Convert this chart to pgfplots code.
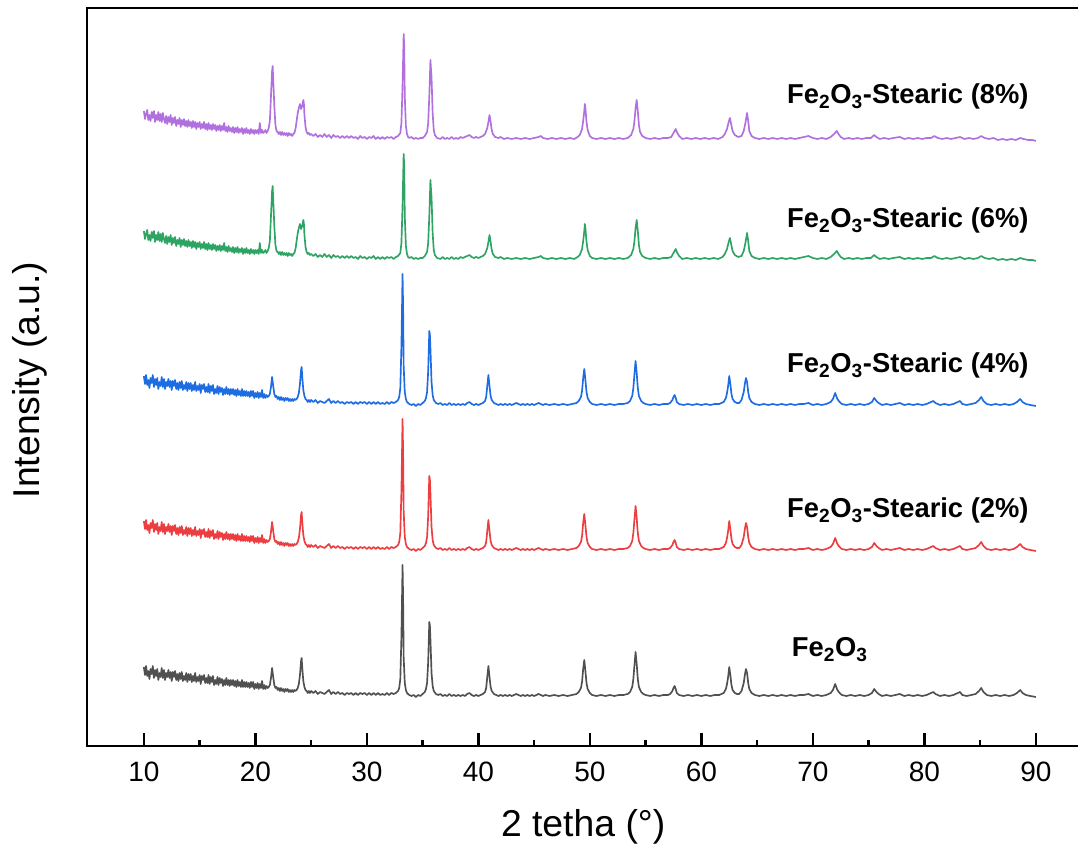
\documentclass[border=0pt]{standalone}
\usepackage{pgfplots}
\pgfplotsset{compat=1.18}
\usepackage{pgfplotstable}
\usepackage{fontspec}
\setmainfont{Liberation Sans}

\definecolor{cgray}{RGB}{80,80,80}
\definecolor{cred}{RGB}{236,62,64}
\definecolor{cblue}{RGB}{30,108,226}
\definecolor{cgreen}{RGB}{46,164,100}
\definecolor{cpurple}{RGB}{176,112,222}

% pattern of Fe2O3, 2%, 4% (relative intensity above the baseline, px)
\pgfplotstableread[row sep=\\]{
x y\\
10.0 30\\ 10.1 22\\ 10.2 31\\ 10.3 21\\ 10.4 26\\ 10.5 18\\ 10.6 28\\ 10.7 23\\ 10.8 31\\ 10.9 19\\
11.0 27\\ 11.1 21\\ 11.2 28\\ 11.3 17\\ 11.4 24\\ 11.5 20\\ 11.6 29\\ 11.7 19\\ 11.8 27\\ 11.9 17\\
12.0 24\\ 12.1 20\\ 12.2 27\\ 12.3 19\\ 12.4 25\\ 12.5 16\\ 12.6 25\\ 12.7 20\\ 12.8 26\\ 12.9 17\\
13.0 23\\ 13.1 16\\ 13.2 24\\ 13.3 18\\ 13.4 25\\ 13.5 16\\ 13.6 21\\ 13.7 17\\ 13.8 24\\ 13.9 15\\
14.0 23\\ 14.1 17\\ 14.2 23\\ 14.3 15\\ 14.4 21\\ 14.5 16\\ 14.6 24\\ 14.7 15\\ 14.8 20\\ 14.9 16\\
15.0 22\\ 15.1 13\\ 15.2 21\\ 15.3 17\\ 15.4 22\\ 15.5 14\\ 15.6 19\\ 15.7 14\\ 15.8 22\\ 15.9 13\\
16.0 20\\ 16.1 15\\ 16.2 21\\ 16.3 12\\ 16.4 17\\ 16.5 13\\ 16.6 20\\ 16.7 12\\ 16.8 19\\ 16.9 14\\
17.0 18\\ 17.1 11\\ 17.2 17\\ 17.3 12\\ 17.4 19\\ 17.5 12\\ 17.6 17\\ 17.7 11\\ 17.8 17\\ 17.9 12\\
18.0 17\\ 18.1 11\\ 18.2 16\\ 18.3 10\\ 18.4 17\\ 18.5 11\\ 18.6 15\\ 18.7 10\\ 18.8 17\\ 18.9 10\\
19.0 15\\ 19.1 10\\ 19.2 15\\ 19.3 10\\ 19.4 14\\ 19.5 9\\ 19.6 15\\ 19.7 10\\ 19.8 15\\ 19.9 8\\
20.0 13\\ 20.1 9\\ 20.2 14\\ 20.3 8\\ 20.4 13\\ 20.5 9\\ 20.6 16\\ 20.7 8\\ 20.8 12\\ 20.9 8\\
21.0 11\\ 21.1 9\\ 21.2 10\\ 21.3 12\\ 21.4 19\\ 21.5 29\\ 21.6 20\\ 21.7 12\\ 21.8 9\\ 21.9 10\\
22.0 7\\ 22.1 9\\ 22.2 6\\ 22.3 9\\ 22.4 6\\ 22.5 8\\ 22.6 5\\ 22.7 8\\ 22.8 6\\ 22.9 8\\
23.0 5\\ 23.1 7\\ 23.2 5\\ 23.3 7\\ 23.4 5\\ 23.5 7\\ 23.6 6\\ 23.7 7\\ 23.8 9\\ 23.9 13\\
24.0 22\\ 24.1 36\\ 24.15 39\\ 24.2 30\\ 24.3 16\\ 24.4 10\\ 24.5 7\\ 24.6 6\\ 24.7 4\\ 24.8 6\\ 24.9 4\\
25.0 6\\ 25.2 4\\ 25.4 6\\ 25.6 3\\ 25.8 5\\ 26.0 4\\ 26.2 3\\ 26.4 5\\ 26.6 7\\ 26.8 3\\
27.0 5\\ 27.2 3\\ 27.4 5\\ 27.6 3\\ 27.8 4\\ 28.0 2\\ 28.2 4\\ 28.4 3\\ 28.6 4\\ 28.8 2\\
29.0 4\\ 29.2 2\\ 29.4 4\\ 29.6 3\\ 29.8 4\\ 30.0 2\\ 30.2 4\\ 30.4 2\\ 30.6 4\\ 30.8 2\\
31.0 4\\ 31.2 2\\ 31.4 3\\ 31.6 2\\ 31.8 4\\ 32.0 2\\ 32.2 4\\ 32.4 3\\ 32.6 4\\ 32.8 6\\
32.9 9\\ 33.0 18\\ 33.1 60\\ 33.2 132\\ 33.25 100\\ 33.3 40\\ 33.4 14\\ 33.5 7\\ 33.6 4\\ 33.8 2\\
34.0 1\\ 34.2 2\\ 34.4 0\\ 34.6 2\\ 34.8 1\\ 35.0 3\\ 35.2 5\\ 35.3 8\\ 35.4 14\\ 35.5 35\\
35.6 75\\ 35.65 72\\ 35.7 58\\ 35.8 24\\ 35.9 11\\ 36.0 6\\ 36.2 3\\ 36.4 2\\ 36.6 3\\ 36.8 1\\
37.0 2\\ 37.2 1\\ 37.4 3\\ 37.6 1\\ 37.8 2\\ 38.0 1\\ 38.2 2\\ 38.4 1\\ 38.6 2\\ 38.8 1\\
39.0 3\\ 39.2 4\\ 39.4 2\\ 39.6 1\\ 39.8 2\\ 40.0 1\\ 40.2 2\\ 40.4 3\\ 40.6 5\\ 40.7 9\\
40.8 20\\ 40.9 31\\ 41.0 20\\ 41.1 10\\ 41.2 6\\ 41.4 3\\ 41.6 2\\ 41.8 1\\ 42.0 2\\ 42.2 1\\
42.4 2\\ 42.6 1\\ 42.8 2\\ 43.0 1\\ 43.2 2\\ 43.4 3\\ 43.6 2\\ 43.8 1\\ 44.0 2\\ 44.2 1\\
44.4 2\\ 44.6 1\\ 44.8 2\\ 45.0 1\\ 45.2 2\\ 45.4 3\\ 45.6 2\\ 45.8 1\\ 46.0 2\\ 46.4 1\\
46.8 2\\ 47.2 1\\ 47.6 2\\ 48.0 1\\ 48.4 2\\ 48.8 3\\ 49.0 5\\ 49.2 9\\ 49.3 15\\ 49.4 28\\
49.5 37\\ 49.6 26\\ 49.7 14\\ 49.8 8\\ 50.0 4\\ 50.2 2\\ 50.6 1\\ 51.0 2\\ 51.4 1\\ 51.8 2\\
52.2 1\\ 52.6 2\\ 53.0 2\\ 53.4 3\\ 53.6 5\\ 53.8 10\\ 53.9 18\\ 54.0 32\\ 54.1 45\\ 54.2 33\\
54.3 18\\ 54.4 10\\ 54.6 5\\ 54.8 3\\ 55.0 2\\ 55.4 1\\ 55.8 2\\ 56.2 1\\ 56.6 2\\ 57.0 2\\
57.2 3\\ 57.4 6\\ 57.5 9\\ 57.6 11\\ 57.7 8\\ 57.8 4\\ 58.0 2\\ 58.4 1\\ 58.8 2\\ 59.2 1\\
59.6 2\\ 60.0 1\\ 60.4 2\\ 60.8 1\\ 61.2 2\\ 61.6 2\\ 62.0 4\\ 62.2 8\\ 62.3 13\\ 62.4 20\\
62.5 30\\ 62.6 22\\ 62.7 12\\ 62.8 7\\ 63.0 4\\ 63.2 3\\ 63.4 3\\ 63.6 6\\ 63.8 14\\ 63.9 22\\
64.0 28\\ 64.1 24\\ 64.2 14\\ 64.3 8\\ 64.5 4\\ 64.8 2\\ 65.2 1\\ 65.6 2\\ 66.0 1\\ 66.4 2\\
66.8 1\\ 67.2 2\\ 67.6 1\\ 68.0 2\\ 68.4 1\\ 68.8 2\\ 69.2 2\\ 69.6 3\\ 70.0 1\\ 70.4 2\\
70.8 1\\ 71.2 2\\ 71.6 4\\ 71.8 7\\ 71.9 10\\ 72.0 13\\ 72.1 10\\ 72.2 7\\ 72.4 4\\ 72.6 2\\
73.0 1\\ 73.4 2\\ 73.8 1\\ 74.2 2\\ 74.6 1\\ 75.0 2\\ 75.3 4\\ 75.5 8\\ 75.7 5\\ 75.9 3\\
76.2 1\\ 76.6 2\\ 77.0 1\\ 77.4 2\\ 77.8 3\\ 78.2 1\\ 78.6 2\\ 79.0 1\\ 79.4 2\\ 79.8 1\\
80.2 2\\ 80.6 4\\ 80.8 5\\ 81.0 3\\ 81.4 1\\ 81.8 2\\ 82.2 1\\ 82.6 2\\ 83.0 4\\ 83.2 5\\
83.4 2\\ 83.8 1\\ 84.2 2\\ 84.6 3\\ 84.9 6\\ 85.1 9\\ 85.3 5\\ 85.6 2\\ 86.0 1\\ 86.4 2\\
86.8 1\\ 87.2 2\\ 87.6 1\\ 88.0 2\\ 88.3 4\\ 88.6 7\\ 88.8 4\\ 89.1 2\\ 89.5 1\\ 90.0 0\\
}\dataA

% pattern of 6%, 8%
\pgfplotstableread[row sep=\\]{
x y\\
10.0 30\\ 10.1 22\\ 10.2 27\\ 10.3 31\\ 10.4 21\\ 10.5 26\\ 10.6 20\\ 10.7 29\\ 10.8 23\\ 10.9 30\\
11.0 19\\ 11.1 26\\ 11.2 21\\ 11.3 29\\ 11.4 20\\ 11.5 27\\ 11.6 19\\ 11.7 28\\ 11.8 22\\ 11.9 18\\
12.0 25\\ 12.1 17\\ 12.2 24\\ 12.3 19\\ 12.4 26\\ 12.5 16\\ 12.6 23\\ 12.7 18\\ 12.8 24\\ 12.9 15\\
13.0 21\\ 13.1 17\\ 13.2 23\\ 13.3 14\\ 13.4 21\\ 13.5 16\\ 13.6 22\\ 13.7 15\\ 13.8 20\\ 13.9 14\\
14.0 21\\ 14.1 15\\ 14.2 19\\ 14.3 13\\ 14.4 20\\ 14.5 14\\ 14.6 19\\ 14.7 12\\ 14.8 18\\ 14.9 14\\
15.0 19\\ 15.1 12\\ 15.2 17\\ 15.3 13\\ 15.4 19\\ 15.5 12\\ 15.6 17\\ 15.7 11\\ 15.8 18\\ 15.9 12\\
16.0 16\\ 16.1 11\\ 16.2 17\\ 16.3 12\\ 16.4 16\\ 16.5 10\\ 16.6 15\\ 16.7 11\\ 16.8 16\\ 16.9 10\\
17.0 15\\ 17.1 11\\ 17.2 18\\ 17.3 10\\ 17.4 14\\ 17.5 9\\ 17.6 15\\ 17.7 10\\ 17.8 13\\ 17.9 9\\
18.0 14\\ 18.1 8\\ 18.2 13\\ 18.3 9\\ 18.4 14\\ 18.5 8\\ 18.6 12\\ 18.7 9\\ 18.8 13\\ 18.9 7\\
19.0 12\\ 19.1 8\\ 19.2 13\\ 19.3 8\\ 19.4 11\\ 19.5 7\\ 19.6 12\\ 19.7 8\\ 19.8 11\\ 19.9 7\\
20.0 11\\ 20.1 8\\ 20.2 11\\ 20.3 7\\ 20.4 18\\ 20.5 8\\ 20.6 11\\ 20.7 8\\ 20.8 9\\ 20.9 11\\
21.0 8\\ 21.1 10\\ 21.2 13\\ 21.3 20\\ 21.4 45\\ 21.5 70\\ 21.55 75\\ 21.6 62\\ 21.7 35\\ 21.8 16\\
21.9 10\\ 22.0 9\\ 22.1 7\\ 22.2 9\\ 22.3 6\\ 22.4 9\\ 22.5 6\\ 22.6 8\\ 22.7 6\\ 22.8 8\\
22.9 5\\ 23.0 8\\ 23.1 6\\ 23.2 7\\ 23.3 5\\ 23.4 7\\ 23.5 8\\ 23.6 12\\ 23.7 20\\ 23.8 28\\
23.9 33\\ 24.0 37\\ 24.1 32\\ 24.2 35\\ 24.3 41\\ 24.35 38\\ 24.4 26\\ 24.5 14\\ 24.6 9\\ 24.7 7\\
24.8 8\\ 24.9 6\\ 25.0 7\\ 25.2 5\\ 25.4 7\\ 25.6 4\\ 25.8 6\\ 26.0 4\\ 26.2 7\\ 26.4 4\\
26.6 6\\ 26.8 3\\ 27.0 6\\ 27.2 4\\ 27.4 5\\ 27.6 3\\ 27.8 5\\ 28.0 3\\ 28.2 5\\ 28.4 3\\
28.6 5\\ 28.8 3\\ 29.0 4\\ 29.2 2\\ 29.4 5\\ 29.6 3\\ 29.8 4\\ 30.0 2\\ 30.2 4\\ 30.4 3\\
30.6 5\\ 30.8 2\\ 31.0 4\\ 31.2 2\\ 31.4 4\\ 31.6 2\\ 31.8 4\\ 32.0 3\\ 32.2 4\\ 32.4 2\\
32.6 4\\ 32.8 5\\ 33.0 8\\ 33.1 18\\ 33.2 55\\ 33.3 107\\ 33.35 95\\ 33.4 45\\ 33.5 15\\ 33.6 7\\
33.7 4\\ 33.8 3\\ 34.0 4\\ 34.2 2\\ 34.4 3\\ 34.6 2\\ 34.8 3\\ 35.0 3\\ 35.2 5\\ 35.4 9\\
35.5 18\\ 35.6 45\\ 35.7 81\\ 35.75 72\\ 35.8 64\\ 35.9 28\\ 36.0 11\\ 36.1 6\\ 36.3 3\\ 36.6 2\\
36.8 4\\ 37.0 2\\ 37.2 3\\ 37.4 2\\ 37.6 4\\ 37.8 2\\ 38.0 3\\ 38.2 2\\ 38.4 4\\ 38.6 3\\
38.8 4\\ 39.0 5\\ 39.2 6\\ 39.4 4\\ 39.6 3\\ 39.8 4\\ 40.0 3\\ 40.2 4\\ 40.4 5\\ 40.6 7\\
40.8 13\\ 40.9 19\\ 41.0 26\\ 41.1 19\\ 41.2 11\\ 41.3 7\\ 41.5 4\\ 41.8 3\\ 42.0 4\\ 42.3 2\\
42.6 3\\ 43.0 2\\ 43.4 3\\ 43.8 2\\ 44.2 3\\ 44.6 2\\ 45.0 3\\ 45.4 4\\ 45.6 5\\ 45.8 3\\
46.2 2\\ 46.6 3\\ 47.0 2\\ 47.4 3\\ 47.8 2\\ 48.2 3\\ 48.6 2\\ 48.9 4\\ 49.1 6\\ 49.3 12\\
49.4 20\\ 49.5 30\\ 49.55 37\\ 49.6 33\\ 49.7 19\\ 49.8 11\\ 50.0 5\\ 50.2 3\\ 50.6 2\\ 51.0 3\\
51.4 2\\ 51.8 3\\ 52.2 2\\ 52.6 3\\ 53.0 2\\ 53.4 3\\ 53.7 6\\ 53.9 12\\ 54.0 20\\ 54.1 33\\
54.2 41\\ 54.3 30\\ 54.4 16\\ 54.5 9\\ 54.7 5\\ 55.0 3\\ 55.4 2\\ 55.8 3\\ 56.2 2\\ 56.6 3\\
57.0 3\\ 57.3 4\\ 57.5 8\\ 57.7 12\\ 57.8 9\\ 58.0 5\\ 58.3 2\\ 58.7 3\\ 59.1 2\\ 59.5 3\\
59.9 2\\ 60.3 3\\ 60.7 2\\ 61.1 3\\ 61.5 2\\ 61.9 4\\ 62.1 7\\ 62.3 12\\ 62.45 19\\ 62.56 23\\
62.65 18\\ 62.8 10\\ 63.0 6\\ 63.3 4\\ 63.6 5\\ 63.8 10\\ 63.95 18\\ 64.1 28\\ 64.2 20\\ 64.3 10\\
64.5 5\\ 64.8 3\\ 65.2 2\\ 65.6 3\\ 66.0 2\\ 66.4 3\\ 66.8 2\\ 67.2 3\\ 67.6 2\\ 68.0 3\\
68.4 2\\ 68.8 3\\ 69.2 4\\ 69.6 5\\ 70.0 3\\ 70.4 2\\ 70.8 3\\ 71.2 2\\ 71.6 4\\ 71.9 7\\
72.15 10\\ 72.3 7\\ 72.5 4\\ 72.8 2\\ 73.2 3\\ 73.6 2\\ 74.0 3\\ 74.4 2\\ 74.8 3\\ 75.2 3\\
75.5 6\\ 75.7 4\\ 76.0 2\\ 76.4 3\\ 76.8 2\\ 77.2 3\\ 77.8 4\\ 78.2 2\\ 78.6 3\\ 79.0 2\\
79.4 3\\ 79.8 2\\ 80.2 3\\ 80.6 3\\ 80.9 5\\ 81.2 3\\ 81.6 2\\ 82.0 3\\ 82.4 2\\ 82.8 3\\
83.2 4\\ 83.6 2\\ 84.0 3\\ 84.4 2\\ 84.8 3\\ 85.1 5\\ 85.4 3\\ 85.8 2\\ 86.2 3\\ 86.6 1\\
87.0 2\\ 87.4 1\\ 87.8 2\\ 88.2 1\\ 88.6 3\\ 88.9 2\\ 89.3 1\\ 89.7 1\\ 90.0 0\\
}\dataB

\begin{document}
\begin{tikzpicture}
\begin{axis}[
  at={(65.25pt,79.5pt)}, anchor=south west,
  x=8.3625pt, y=0.75pt,
  xmin=4.9, xmax=93.9, ymin=0, ymax=738,
  axis line style={line width=2pt},
  xtick={10,20,...,90}, minor xtick={15,25,...,85},
  ytick=\empty,
  xtick pos=left, tick align=inside,
  major tick length=10pt, minor tick length=4.5pt,
  every tick/.style={black, line width=1.8pt},
  tick label style={font=\fontsize{21}{25}\selectfont},
  xticklabel style={yshift=-8.5pt},
  /pgf/number format/assume math mode=true,
  xlabel={2 tetha (°)}, ylabel={Intensity (a.u.)},
  label style={font=\fontsize{28}{32}\selectfont},
  xlabel style={at={(axis description cs:0.5,-0.086)}, anchor=north, inner sep=0pt},
  ylabel style={at={(axis description cs:-0.0574,0.496)}, anchor=center, inner sep=0pt},
  every axis plot/.append style={line width=1.25pt, line join=round},
  clip=false,
]
\addplot[cgray] table[x=x, y expr=\thisrow{y}+49] {\dataA};
\addplot[cred] table[x=x, y expr=\thisrow{y}+195] {\dataA};
\addplot[cblue] table[x=x, y expr=\thisrow{y}+340] {\dataA};
\addplot[cgreen] table[x=x, y expr=\thisrow{y}+485] {\dataB};
\addplot[cpurple] table[x=x, y expr=\thisrow{y}+605] {\dataB};

\begin{scope}[every node/.style={anchor=base west, inner sep=0pt, font=\fontsize{20.5}{24}\selectfont\bfseries}]
\node at (axis cs:67.67,642) {Fe\textsubscript{2}O\textsubscript{3}-Stearic (8\%)};
\node at (axis cs:67.67,518) {Fe\textsubscript{2}O\textsubscript{3}-Stearic (6\%)};
\node at (axis cs:67.67,373) {Fe\textsubscript{2}O\textsubscript{3}-Stearic (4\%)};
\node at (axis cs:67.67,228) {Fe\textsubscript{2}O\textsubscript{3}-Stearic (2\%)};
\node at (axis cs:68.1,89) {Fe\textsubscript{2}O\textsubscript{3}};
\end{scope}
\end{axis}
\pgfresetboundingbox
\path[use as bounding box] (0pt,0pt) rectangle (808.5pt,639pt);
\end{tikzpicture}
\end{document}
